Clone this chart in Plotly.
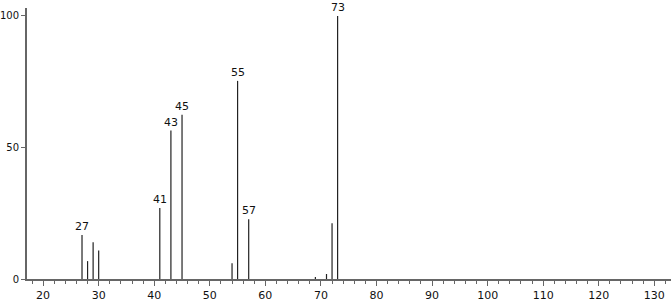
import plotly.graph_objects as go

mz = [27, 28, 29, 30, 41, 43, 45, 54, 55, 57, 69, 71, 72, 73]
intensity = [16.7, 6.8, 14.0, 10.8, 27.0, 56.4, 62.4, 6.0, 75.3, 22.7, 0.8, 1.9, 21.2, 100.0]
labeled = [27, 41, 43, 45, 55, 57, 73]

xs, ys = [], []
for m, i in zip(mz, intensity):
    xs += [m, m, None]
    ys += [0, i, None]

fig = go.Figure()
fig.add_trace(go.Scatter(x=xs, y=ys, mode="lines",
                         line=dict(color="#222222", width=1.2),
                         hoverinfo="skip", showlegend=False))

for m, i in zip(mz, intensity):
    if m in labeled:
        fig.add_annotation(x=m, y=i, text=str(m), showarrow=False,
                           yanchor="bottom", yshift=0,
                           font=dict(size=11, color="#111111"))

fig.update_layout(
    width=672, height=302,
    margin=dict(l=27, r=1, t=8, b=23, autoexpand=False),
    paper_bgcolor="white", plot_bgcolor="white",
    font=dict(family="DejaVu Sans", size=11, color="#111111"),
    showlegend=False,
)
fig.update_xaxes(range=[17.1, 133.0], tickvals=list(range(20, 131, 10)),
                 ticks="outside", ticklen=5, tickcolor="#666666", tickwidth=1,
                 showline=True, linecolor="#666666", linewidth=2,
                 showgrid=False, zeroline=False, automargin=False,
                 minor=dict(tickvals=[v for v in range(18, 134, 2) if v % 10], ticks="outside",
                            ticklen=3, tickcolor="#666666", tickwidth=1, showgrid=False))
fig.update_yaxes(range=[0, 103], tickvals=[0, 50, 100],
                 ticks="outside", ticklen=4, tickcolor="#666666", tickwidth=1,
                 tickfont=dict(size=10),
                 showline=True, linecolor="#666666", linewidth=2,
                 showgrid=False, zeroline=False, automargin=False, ticklabelstandoff=0)

fig.write_html("out.html")
